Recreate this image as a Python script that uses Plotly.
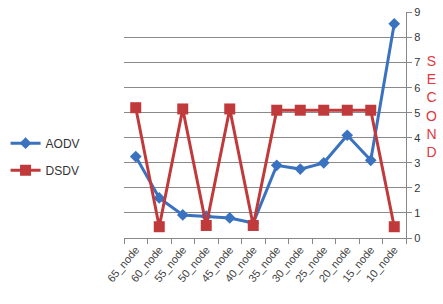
import plotly.graph_objects as go

categories = ["65_node", "60_node", "55_node", "50_node", "45_node", "40_node",
              "35_node", "30_node", "25_node", "20_node", "15_node", "10_node"]
aodv = [3.25, 1.6, 0.92, 0.87, 0.8, 0.6, 2.9, 2.75, 3.0, 4.1, 3.1, 8.55]
dsdv = [5.2, 0.45, 5.15, 0.5, 5.15, 0.5, 5.1, 5.1, 5.1, 5.1, 5.1, 0.45]
y_ticks = list(range(0, 10))

fig = go.Figure()
fig.add_trace(go.Scatter(x=categories, y=aodv, name="AODV", mode="lines+markers",
                         legendgroup="a",
                         line=dict(color="#3a72c0", width=3),
                         marker=dict(symbol="diamond", size=9, color="#3a72c0")))
fig.add_trace(go.Scatter(x=categories, y=dsdv, name="DSDV", mode="lines+markers",
                         legendgroup="b",
                         line=dict(color="#c0393b", width=3),
                         marker=dict(symbol="square", size=11, color="#c0393b")))

fig.update_layout(
    width=443, height=304,
    margin=dict(l=120, r=37, t=6, b=66),
    paper_bgcolor="white", plot_bgcolor="white",
    showlegend=True,
    legend=dict(x=-0.42, y=0.36, xanchor="left", yanchor="middle",
                font=dict(family="Liberation Sans Narrow, Arial Narrow, sans-serif", size=12, color="#333"),
                itemwidth=30, tracegroupgap=8, bgcolor="rgba(0,0,0,0)"),
    font=dict(family="Liberation Sans, Arial, sans-serif", color="#333"),
)
fig.update_xaxes(
    type="category", tickangle=-50, tickson="boundaries",
    ticks="outside", ticklen=5, tickcolor="#888",
    showline=True, linecolor="#888", linewidth=1,
    showgrid=False, tickfont=dict(size=11, color="#444"),
    range=[-0.5, 11.5],
)
fig.update_yaxes(
    side="right", range=[0, 9.02], tickvals=y_ticks,
    ticks="outside", ticklen=5, tickcolor="#888",
    showline=True, linecolor="#888", linewidth=1,
    showgrid=True, gridcolor="#8a8a8a", gridwidth=1,
    tickfont=dict(size=11, color="#333"), zeroline=False,
)
fig.add_annotation(text="S<br>E<br>C<br>O<br>N<br>D", xref="paper", yref="paper",
                   x=1.09, y=0.58, xanchor="center", yanchor="middle", showarrow=False,
                   font=dict(size=14, color="#e0393b", family="Liberation Sans, Arial, sans-serif"),
                   align="center")

fig.write_html("out.html")
